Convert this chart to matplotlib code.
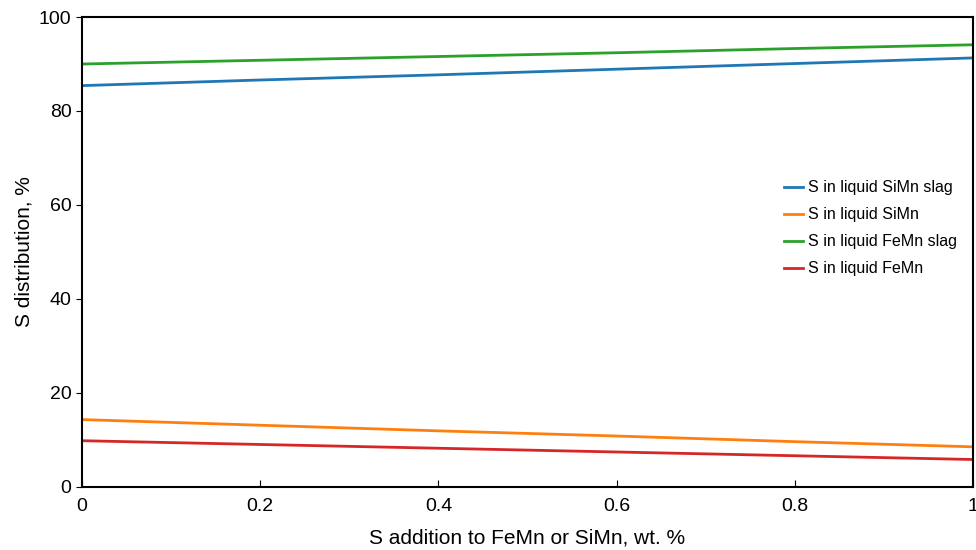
import matplotlib
matplotlib.use("Agg")
import matplotlib.pyplot as plt

plt.rcParams["font.family"] = ["Liberation Sans", "DejaVu Sans"]

# S addition, wt.%
s_add = [0.0, 0.2, 0.4, 0.6, 0.8, 1.0]
simn_slag = [85.4, 86.6, 87.7, 88.9, 90.1, 91.3]
simn_liq = [14.3, 13.1, 11.9, 10.8, 9.6, 8.5]
femn_slag = [90.0, 90.8, 91.6, 92.4, 93.3, 94.1]
femn_liq = [9.8, 9.0, 8.2, 7.4, 6.6, 5.8]

labels = ["S in liquid SiMn slag", "S in liquid SiMn",
          "S in liquid FeMn slag", "S in liquid FeMn"]
colors = ["#1f77b4", "#ff7f0e", "#2ca02c", "#d62728"]

fig = plt.figure(figsize=(9.76, 5.5), dpi=100)
ax = fig.add_axes([0.084, 0.115, 0.913, 0.854])

for ys, lab, c in zip([simn_slag, simn_liq, femn_slag, femn_liq], labels, colors):
    ax.plot(s_add, ys, color=c, lw=2, label=lab)

ax.set_xlim(0, 1)
ax.set_ylim(0, 100)
ax.set_xticks([0, 0.2, 0.4, 0.6, 0.8, 1])
ax.set_xticklabels(["0", "0.2", "0.4", "0.6", "0.8", "1"])
ax.set_yticks([0, 20, 40, 60, 80, 100])
ax.tick_params(axis="x", direction="in", length=5, labelsize=14, pad=8)
ax.tick_params(axis="y", direction="out", length=4, labelsize=14)
for sp in ax.spines.values():
    sp.set_linewidth(1.5)

ax.set_xlabel("S addition to FeMn or SiMn, wt. %", fontsize=15, labelpad=10)
ax.set_ylabel("S distribution, %", fontsize=15)

ax.legend(loc="center right", bbox_to_anchor=(0.998, 0.55), frameon=False,
          fontsize=11.5, handlelength=1.2, handletextpad=0.3, labelspacing=0.75)

fig.savefig("out.png", dpi=100)
